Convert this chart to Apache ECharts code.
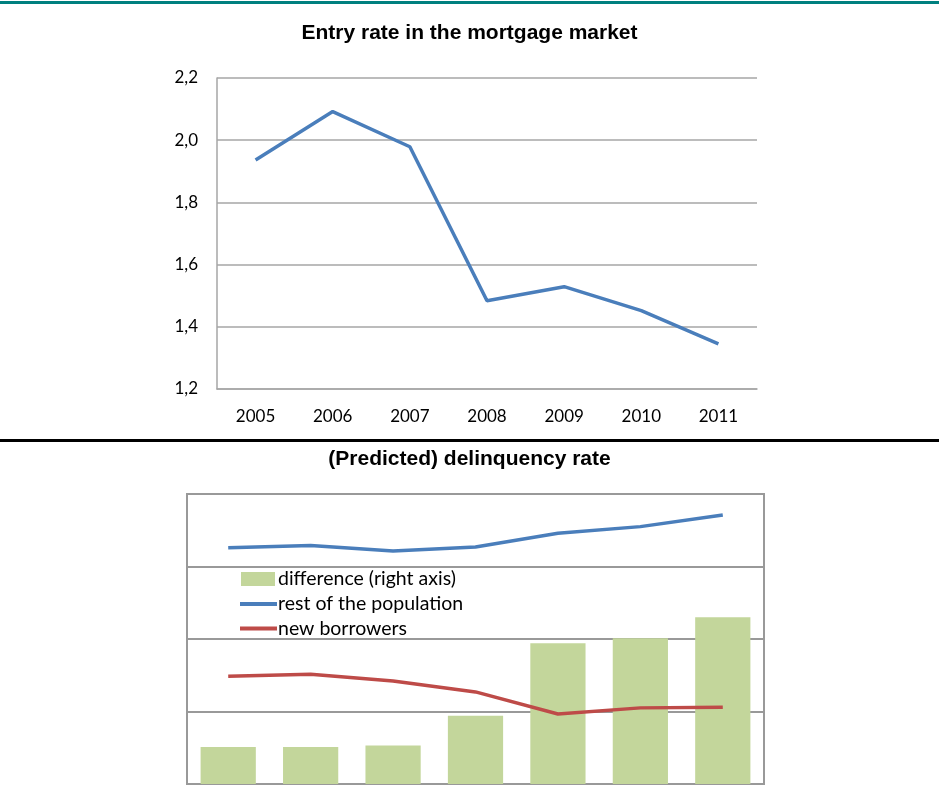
<!DOCTYPE html>
<html>
<head>
<meta charset="utf-8">
<script src="https://cdn.jsdelivr.net/npm/echarts@6/dist/echarts.min.js"></script>
<style>
html,body{margin:0;padding:0;background:#fff;}
#c{width:939px;height:788px;}
</style>
</head>
<body>
<div id="c"></div>
<script>
// ---- data ----
const years = ['2005','2006','2007','2008','2009','2010','2011'];
const entryRate = [1.936, 2.092, 1.979, 1.484, 1.529, 1.452, 1.345];
const restOfPopulation = [6.52, 6.58, 6.43, 6.54, 6.92, 7.10, 7.42];
const newBorrowers = [2.97, 3.03, 2.84, 2.54, 1.93, 2.10, 2.12];
const difference = [0.51, 0.51, 0.53, 0.94, 1.94, 2.01, 2.30];
const title1 = 'Entry rate in the mortgage market';
const title2 = '(Predicted) delinquency rate';

const chart = echarts.init(document.getElementById('c'), null, {renderer:'canvas'});
const gridGray = '#a6a6a6';
const font = 'Lato';
chart.setOption({
  animation:false,
  backgroundColor:'#ffffff',
  title:[
    {text:title1, left:'center', top:18, textStyle:{fontFamily:'Liberation Sans', fontWeight:'bold', fontSize:21, color:'#000'}},
    {text:title2, left:'center', top:444, textStyle:{fontFamily:'Liberation Sans', fontWeight:'bold', fontSize:21, color:'#000'}}
  ],
  graphic:[
    {type:'rect', left:0, top:1, shape:{width:939, height:3}, style:{fill:'#00807f'}},
    {type:'rect', left:0, top:439, shape:{width:939, height:3}, style:{fill:'#000'}}
  ],
  legend:[
    {data:[{name:'difference (right axis)', icon:'rect'}], orient:'vertical', left:236, top:564, itemWidth:34, itemHeight:14, itemGap:4,
     textStyle:{fontFamily:font, fontSize:19.5, lineHeight:20, color:'#000', padding:[0,0,0,-2]}},
    {data:[{name:'rest of the population', icon:'rect'}, {name:'new borrowers', icon:'rect'}], orient:'vertical', left:235, top:589, itemWidth:37, itemHeight:4, itemGap:4.5,
     textStyle:{fontFamily:font, fontSize:19.5, lineHeight:20, color:'#000', padding:[0,0,0,-4]}}
  ],
  grid:[
    {left:217, right:182, top:78, height:311},
    {left:187, right:175, top:494, height:290, show:true, borderColor:'#999', borderWidth:2}
  ],
  xAxis:[
    {type:'category', data:years, gridIndex:0, boundaryGap:true,
     axisLine:{lineStyle:{color:gridGray, width:1.5}}, axisTick:{show:false},
     axisLabel:{fontFamily:font, fontSize:17, color:'#000', margin:19}},
    {type:'category', data:years, gridIndex:1, boundaryGap:true,
     axisLine:{show:false}, axisTick:{show:false}, axisLabel:{show:false}}
  ],
  yAxis:[
    {type:'value', gridIndex:0, min:1.2, max:2.2, interval:0.2,
     axisLine:{show:true, lineStyle:{color:gridGray, width:1.5}}, axisTick:{show:false},
     splitLine:{lineStyle:{color:gridGray, width:1.5}},
     axisLabel:{fontFamily:font, fontSize:17, color:'#000', margin:19, formatter:v=>v.toFixed(1).replace('.',',')}},
    {type:'value', gridIndex:1, min:0, max:8, interval:2,
     axisLine:{show:false}, axisTick:{show:false}, axisLabel:{show:false},
     splitLine:{lineStyle:{color:'#999', width:2}}},
    {type:'value', gridIndex:1, position:'right', min:0, max:4, interval:1,
     axisLine:{show:false}, axisTick:{show:false}, axisLabel:{show:false}, splitLine:{show:false}}
  ],
  series:[
    {type:'line', name:'Entry rate', xAxisIndex:0, yAxisIndex:0, data:entryRate, symbol:'none',
     lineStyle:{color:'#4a7ebb', width:3.5}, itemStyle:{color:'#4a7ebb'}},
    {type:'bar', name:'difference (right axis)', xAxisIndex:1, yAxisIndex:2, data:difference,
     barCategoryGap:'33%', itemStyle:{color:'#c3d69b'}, z:1},
    {type:'line', name:'rest of the population', xAxisIndex:1, yAxisIndex:1, data:restOfPopulation, symbol:'none',
     lineStyle:{color:'#4a7ebb', width:3.5}, itemStyle:{color:'#4a7ebb'}, z:3},
    {type:'line', name:'new borrowers', xAxisIndex:1, yAxisIndex:1, data:newBorrowers, symbol:'none',
     lineStyle:{color:'#be4b48', width:3.5}, itemStyle:{color:'#be4b48'}, z:3}
  ]
});
</script>
</body>
</html>
